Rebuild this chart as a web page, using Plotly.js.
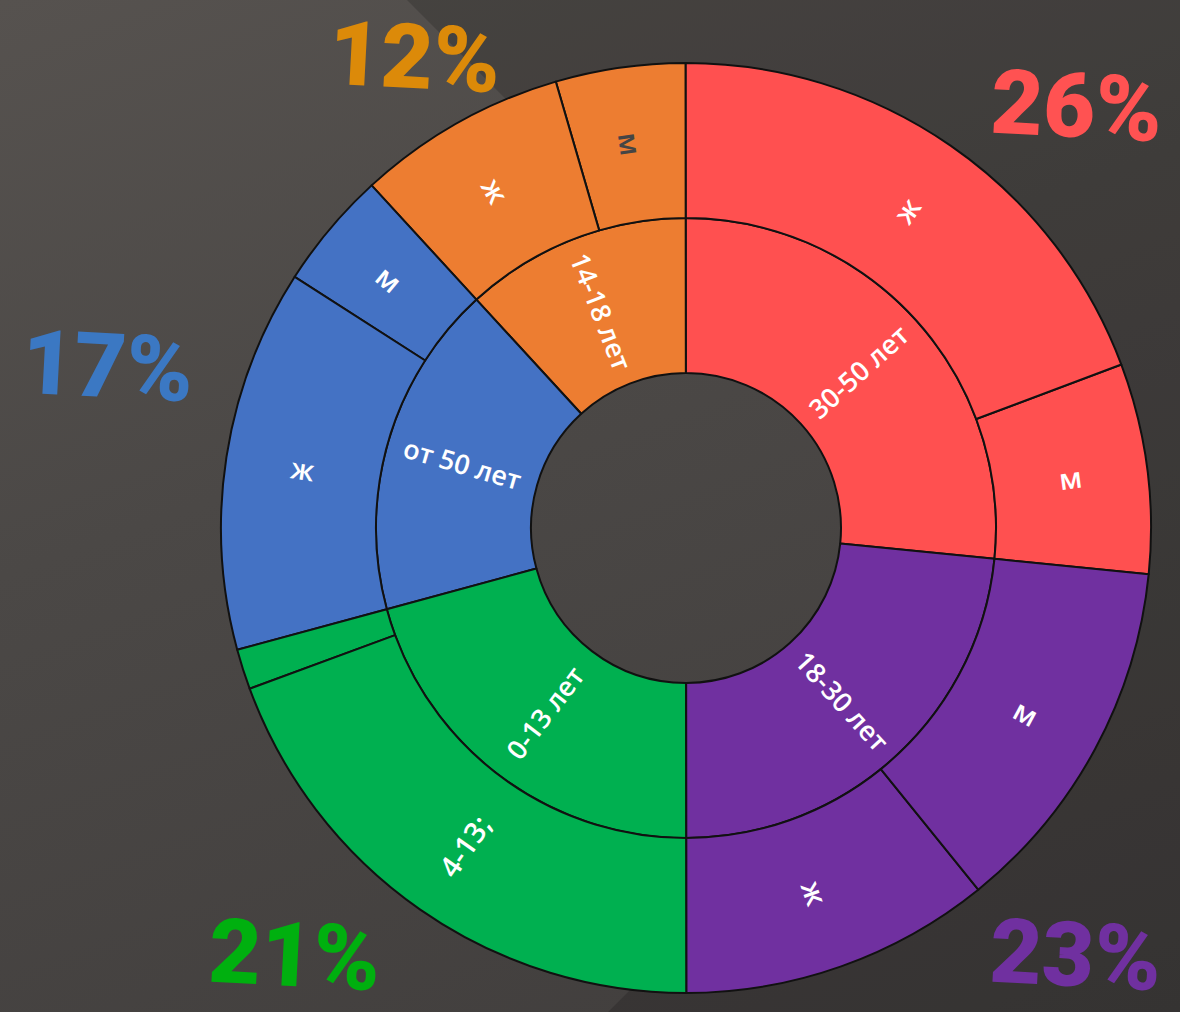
<!DOCTYPE html>
<html>
<head>
<meta charset="utf-8">
<script src="https://cdn.plot.ly/plotly-3.0.1.min.js"></script>
<style>
  html, body { margin: 0; padding: 0; }
  body { width: 1180px; height: 1012px; overflow: hidden;
         background: linear-gradient(160deg, #56524f 0%, #4b4846 40%, #403d3c 100%); }
  #chart { width: 1180px; height: 1012px; }
</style>
</head>
<body>
<div id="chart"></div>
<script>
// Order is counter-clockwise (sunburst direction), starting just below 3 o'clock
const ids     = ["root",
                 "g30", "g14", "g50", "g0", "g18",
                 "g30м", "g30ж", "g14м", "g14ж", "g50м", "g50ж", "g0s", "g0a", "g18ж", "g18м"];
const labels  = ["",
                 "30-50 лет", "14-18 лет", "от 50 лет", "0-13 лет", "18-30 лет",
                 "м", "ж", "м", "ж", "м", "ж", "", "4-13;", "ж", "м"];
const parents = ["",
                 "root", "root", "root", "root", "root",
                 "g30", "g30", "g14", "g14", "g50", "g50", "g0", "g0", "g18", "g18"];
const values  = [100,
                 26.6, 11.8, 17.4, 20.8, 23.4,
                 7.3, 19.3, 4.5, 7.3, 4.1, 13.3, 1.4, 19.4, 10.8, 12.6];
const colors  = ["rgba(0,0,0,0)",
                 "#FF5050", "#ED7D31", "#4472C4", "#00B050", "#7030A0",
                 "#FF5050", "#FF5050", "#ED7D31", "#ED7D31", "#4472C4", "#4472C4", "#00B050", "#00B050", "#7030A0", "#7030A0"];
const textColors = ["#ffffff",
                 "#ffffff", "#ffffff", "#ffffff", "#ffffff", "#ffffff",
                 "#ffffff", "#ffffff", "#454545", "#ffffff", "#ffffff", "#ffffff", "#ffffff", "#ffffff", "#ffffff", "#ffffff"];
const lineWidths = [0, 2, 2, 2, 2, 2, 2, 2, 2, 2, 2, 2, 2, 2, 2, 2];

// Big share labels
const shareText   = ["12%", "26%", "17%", "21%", "23%"];
const shareColors = ["#DC8A09", "#FF5252", "#3B78C3", "#00B00F", "#7030A0"];
const shareX      = [414, 1076, 107, 294, 1075];
const shareY      = [57, 107, 366, 955, 955];

const W = 1180, H = 1012;
const cx = 686, cy = 528, R = 465;
const ROTATION = -5.7;

const trace = {
  type: "sunburst",
  ids: ids, labels: labels, parents: parents, values: values,
  branchvalues: "total",
  sort: false,
  rotation: ROTATION,
  textinfo: "none",
  marker: { colors: colors, line: { color: "#111111", width: lineWidths } },
  leaf: { opacity: 1 },
  hoverinfo: "none",
  domain: { x: [(cx - R) / W, (cx + R) / W], y: [(H - cy - R) / H, (H - cy + R) / H] }
};

// Radial slice labels placed at each slice's mid-angle, derived from the data
const labelAnnotations = [];
(function layoutLabels() {
  const kids = {};
  ids.forEach((id, i) => { const p = parents[i]; (kids[p] = kids[p] || []).push(i); });
  function walk(i, a0, span, depth) {
    if (depth > 0 && labels[i]) {
      const mid = a0 + span / 2;
      const r = (depth + 0.5) * R / 3;
      const rad = mid * Math.PI / 180;
      const px = cx + r * Math.cos(rad), py = cy - r * Math.sin(rad);
      let t = ((-mid % 360) + 540) % 360 - 180;
      if (t > 90) t -= 180;
      if (t <= -90) t += 180;
      labelAnnotations.push({
        text: labels[i], x: px / W, y: 1 - py / H, xref: "paper", yref: "paper",
        xanchor: "center", yanchor: "middle", showarrow: false, textangle: t,
        font: { family: "Open Sans", size: depth === 1 ? 27 : 29, color: textColors[i], weight: 600 }
      });
    }
    let start = a0;
    (kids[ids[i]] || []).forEach(k => {
      const s = span * values[k] / values[i];
      walk(k, start, s, depth + 1);
      start += s;
    });
  }
  (kids[""] || []).forEach(k => walk(k, ROTATION, 360, 0));
})();

const shareAnnotations = shareText.map((t, i) => ({
  text: t, x: shareX[i] / W, y: 1 - shareY[i] / H, xref: "paper", yref: "paper",
  xanchor: "center", yanchor: "middle", showarrow: false, textangle: 3,
  font: { family: "Roboto", size: 90, color: shareColors[i], weight: 900 }
}));

const P = (x, y) => (x / W).toFixed(4) + "," + (1 - y / H).toFixed(4);
const shapes = [{
  type: "path", xref: "paper", yref: "paper", layer: "below",
  path: "M" + P(407, 0) + " L" + P(1180, 0) + " L" + P(1180, 1012) + " L" + P(608, 1012) + " L" + P(1013, 607) + " Z",
  fillcolor: "rgba(0,0,0,0.16)", line: { width: 0 }
}];

const layout = {
  width: W, height: H,
  margin: { l: 0, r: 0, t: 0, b: 0 },
  paper_bgcolor: "rgba(0,0,0,0)",
  plot_bgcolor: "rgba(0,0,0,0)",
  showlegend: false,
  annotations: labelAnnotations.concat(shareAnnotations),
  shapes: shapes
};

Plotly.newPlot("chart", [trace], layout, { displayModeBar: false, staticPlot: true });
</script>
</body>
</html>
